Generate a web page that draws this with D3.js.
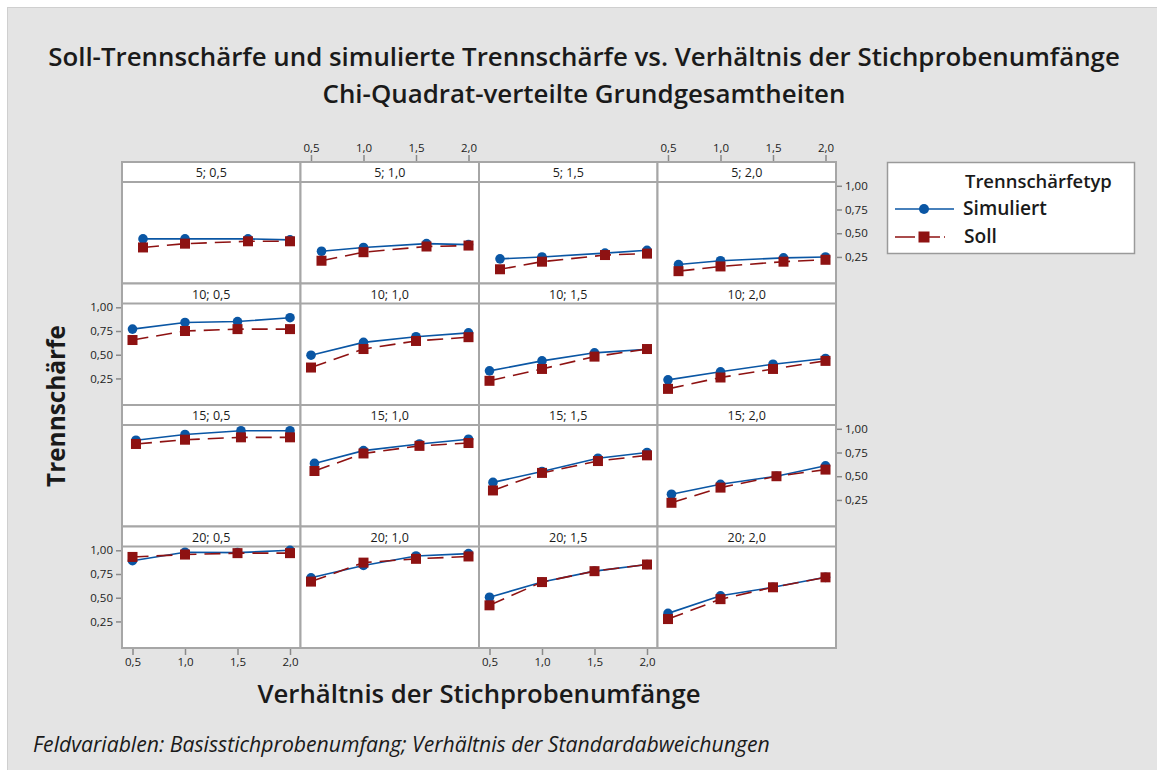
<!DOCTYPE html>
<html><head><meta charset="utf-8">
<script src="https://cdn.jsdelivr.net/npm/d3@7"></script>
<style>body{margin:0;background:#fff}</style>
</head><body><svg id="c" width="1157" height="770"></svg>
<script>
// ---------- data ----------
const baseSizes = [5, 10, 15, 20];              // rows: Basisstichprobenumfang
const sdRatios = [0.5, 1.0, 1.5, 2.0];          // columns: Verhältnis der Standardabweichungen
const xTicks = [0.5, 1.0, 1.5, 2.0];
const yTicks = [0.25, 0.50, 0.75, 1.00];
// actual sample-size ratios used per base sample size
const ratioX5  = [0.6, 1.0, 1.6, 2.0];
const ratioX10 = [0.5, 1.0, 1.5, 2.0];
const ratioX15 = [0.533, 1.0, 1.533, 2.0];
const ratioX20 = [0.5, 1.0, 1.5, 2.0];
// Simuliert (per sd ratio column)
const sim5  = [[0.44,0.44,0.44,0.43],[0.31,0.35,0.39,0.38],[0.23,0.25,0.29,0.32],[0.17,0.21,0.24,0.25]];
const sim10 = [[0.77,0.84,0.85,0.89],[0.495,0.63,0.69,0.73],[0.33,0.435,0.52,0.557],[0.235,0.32,0.40,0.46]];
const sim15 = [[0.88,0.94,0.98,0.98],[0.635,0.77,0.84,0.89],[0.435,0.55,0.69,0.75],[0.31,0.415,0.50,0.61]];
const sim20 = [[0.89,0.98,0.975,1.0],[0.71,0.84,0.94,0.965],[0.505,0.665,0.78,0.85],[0.335,0.52,0.61,0.715]];
// Soll
const soll5  = [[0.35,0.39,0.415,0.415],[0.21,0.30,0.36,0.37],[0.12,0.20,0.27,0.285],[0.10,0.15,0.20,0.22]];
const soll10 = [[0.655,0.75,0.77,0.77],[0.365,0.56,0.645,0.685],[0.225,0.35,0.48,0.56],[0.14,0.26,0.35,0.435]];
const soll15 = [[0.84,0.885,0.91,0.91],[0.555,0.74,0.82,0.85],[0.35,0.535,0.66,0.72],[0.22,0.38,0.50,0.57]];
const soll20 = [[0.93,0.955,0.97,0.97],[0.67,0.87,0.91,0.935],[0.42,0.665,0.78,0.85],[0.275,0.485,0.61,0.715]];

const ratioX = [ratioX5, ratioX10, ratioX15, ratioX20];
const simAll = [sim5, sim10, sim15, sim20];
const sollAll = [soll5, soll10, soll15, soll20];

// ---------- layout ----------
const svg = d3.select("#c");
const FONT = "'Open Sans', 'Noto Sans', sans-serif";
const BLUE = "#0a56a4", RED = "#8e1212", BORDER = "#a6a6a6";
const gridL = 122, gridR = 836, gridT = 162, gridB = 648;
const colW = (gridR - gridL) / 4, rowH = (gridB - gridT) / 4, stripH = 20;
const fmt = (d, n) => d.toFixed(n).replace(".", ",");

svg.append("rect").attr("x", 7.5).attr("y", 7.5).attr("width", 1200).attr("height", 800)
  .attr("fill", "#e4e4e4").attr("stroke", "#cfcfcf");

function fitText(sel, target) {
  const w = sel.node().getComputedTextLength();
  const fs = parseFloat(sel.attr("font-size"));
  sel.attr("font-size", (fs * target / w).toFixed(2));
}

// titles
fitText(svg.append("text").attr("x", 584).attr("y", 66).attr("text-anchor", "middle")
  .attr("font-family", FONT).attr("font-weight", 600).attr("font-size", 22).attr("fill", "#1a1a1a")
  .text("Soll-Trennschärfe und simulierte Trennschärfe vs. Verhältnis der Stichprobenumfänge"), 1072);
fitText(svg.append("text").attr("x", 584).attr("y", 103).attr("text-anchor", "middle")
  .attr("font-family", FONT).attr("font-weight", 600).attr("font-size", 22).attr("fill", "#1a1a1a")
  .text("Chi-Quadrat-verteilte Grundgesamtheiten"), 523);

// axis titles
fitText(svg.append("text").attr("x", 479).attr("y", 703).attr("text-anchor", "middle")
  .attr("font-family", FONT).attr("font-weight", 600).attr("font-size", 20).attr("fill", "#1a1a1a")
  .text("Verhältnis der Stichprobenumfänge"), 443);
fitText(svg.append("text").attr("transform", "translate(65,406) rotate(-90)").attr("text-anchor", "middle")
  .attr("font-family", FONT).attr("font-weight", 700).attr("font-size", 20).attr("fill", "#1a1a1a")
  .text("Trennschärfe"), 162);
fitText(svg.append("text").attr("x", 33).attr("y", 752)
  .attr("font-family", FONT).attr("font-style", "italic").attr("font-size", 15).attr("fill", "#1a1a1a")
  .text("Feldvariablen: Basisstichprobenumfang; Verhältnis der Standardabweichungen"), 737);

// panels
baseSizes.forEach((b, r) => {
  sdRatios.forEach((s, c) => {
    const x0 = gridL + c * colW, y0 = gridT + r * rowH;
    const pTop = y0 + stripH, pBot = y0 + rowH;
    const x = d3.scaleLinear().domain([0.4, 2.1]).range([x0, x0 + colW]);
    const y = d3.scaleLinear().domain([-0.03, 1.04]).range([pBot, pTop]);
    const g = svg.append("g");
    g.append("rect").attr("x", x0).attr("y", y0).attr("width", colW).attr("height", rowH)
      .attr("fill", "#fff").attr("stroke", BORDER).attr("stroke-width", 2);
    g.append("line").attr("x1", x0).attr("x2", x0 + colW).attr("y1", pTop).attr("y2", pTop)
      .attr("stroke", BORDER).attr("stroke-width", 2);
    g.append("text").attr("x", x0 + colW / 2).attr("y", y0 + 15).attr("text-anchor", "middle")
      .attr("font-family", FONT).attr("font-size", 12.5).attr("fill", "#1a1a1a")
      .text(b + "; " + fmt(s, 1));

    const xs = ratioX[r];
    const sim = simAll[r][c].map((v, i) => [xs[i], v]);
    const soll = sollAll[r][c].map((v, i) => [xs[i], v]);
    const line = d3.line().x(d => x(d[0])).y(d => y(d[1]));
    g.append("path").attr("d", line(sim)).attr("fill", "none").attr("stroke", BLUE).attr("stroke-width", 1.6);
    g.selectAll(".c").data(sim).enter().append("circle")
      .attr("cx", d => x(d[0])).attr("cy", d => y(d[1])).attr("r", 4.8).attr("fill", BLUE);
    g.append("path").attr("d", line(soll)).attr("fill", "none").attr("stroke", RED).attr("stroke-width", 1.6)
      .attr("stroke-dasharray", "16,8");
    g.selectAll(".s").data(soll).enter().append("rect")
      .attr("x", d => x(d[0]) - 5).attr("y", d => y(d[1]) - 5).attr("width", 10).attr("height", 10).attr("fill", RED);

    // y axis
    if (c === 0 && (r === 1 || r === 3)) {
      const ax = svg.append("g").attr("transform", `translate(${gridL - 1},0)`)
        .call(d3.axisLeft(y).tickValues(yTicks).tickFormat(d => fmt(d, 2)).tickSize(5).tickPadding(3));
      styleAxis(ax);
    }
    if (c === 3 && (r === 0 || r === 2)) {
      const ax = svg.append("g").attr("transform", `translate(${gridR + 1},0)`)
        .call(d3.axisRight(y).tickValues(yTicks).tickFormat(d => fmt(d, 2)).tickSize(5).tickPadding(3));
      styleAxis(ax);
    }
    // x axis
    if (r === 0 && (c === 1 || c === 3)) {
      const ax = svg.append("g").attr("transform", `translate(0,${gridT - 1})`)
        .call(d3.axisTop(x).tickValues(xTicks).tickFormat(d => fmt(d, 1)).tickSize(6).tickPadding(3));
      styleAxis(ax);
    }
    if (r === 3 && (c === 0 || c === 2)) {
      const ax = svg.append("g").attr("transform", `translate(0,${gridB + 1})`)
        .call(d3.axisBottom(x).tickValues(xTicks).tickFormat(d => fmt(d, 1)).tickSize(6).tickPadding(3));
      styleAxis(ax);
    }
  });
});

function styleAxis(ax) {
  ax.select(".domain").remove();
  ax.selectAll("line").attr("stroke", "#8a8a8a").attr("stroke-width", 1.5);
  ax.selectAll("text").attr("font-family", FONT).attr("font-size", 11.5).attr("fill", "#222");
}

// legend
const lg = svg.append("g");
lg.append("rect").attr("x", 887.5).attr("y", 162.5).attr("width", 247).attr("height", 91)
  .attr("fill", "#fff").attr("stroke", "#9a9a9a").attr("stroke-width", 1.5);
fitText(lg.append("text").attr("x", 965).attr("y", 188).attr("font-family", FONT).attr("font-weight", 600)
  .attr("font-size", 15).attr("fill", "#1a1a1a").text("Trennschärfetyp"), 147);
fitText(lg.append("text").attr("x", 963).attr("y", 215).attr("font-family", FONT).attr("font-weight", 600)
  .attr("font-size", 15).attr("fill", "#1a1a1a").text("Simuliert"), 84);
fitText(lg.append("text").attr("x", 964).attr("y", 243).attr("font-family", FONT).attr("font-weight", 600)
  .attr("font-size", 15).attr("fill", "#1a1a1a").text("Soll"), 33);
lg.append("line").attr("x1", 895).attr("x2", 954).attr("y1", 209).attr("y2", 209)
  .attr("stroke", BLUE).attr("stroke-width", 1.6);
lg.append("circle").attr("cx", 924).attr("cy", 209).attr("r", 5).attr("fill", BLUE);
lg.append("line").attr("x1", 895).attr("x2", 955).attr("y1", 237).attr("y2", 237)
  .attr("stroke", RED).attr("stroke-width", 1.6).attr("stroke-dasharray", "20,5,20,4,1,10");
lg.append("rect").attr("x", 918.5).attr("y", 231.5).attr("width", 11).attr("height", 11).attr("fill", RED);
</script></body></html>
